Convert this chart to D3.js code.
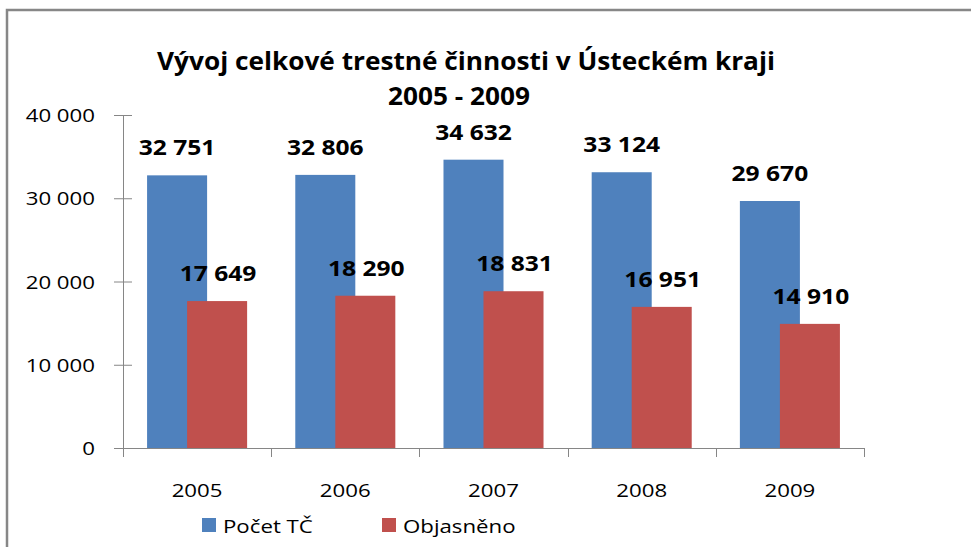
<!DOCTYPE html>
<html>
<head>
<meta charset="utf-8">
<script src="https://cdn.jsdelivr.net/npm/d3@7"></script>
<style>
  html, body { margin: 0; padding: 0; background: #fff; }
  svg { display: block; font-family: "Open Sans", sans-serif; }
</style>
</head>
<body>
<div id="chart"></div>
<script>
// Data
const years = ['2005', '2006', '2007', '2008', '2009'];
const pocetTC = [32751, 32806, 34632, 33124, 29670];
const objasneno = [17649, 18290, 18831, 16951, 14910];
const seriesNames = ['Počet TČ', 'Objasněno'];
const seriesColors = ['#4F81BD', '#C0504D'];
const yTicks = [0, 10000, 20000, 30000, 40000];
const titleLines = ['Vývoj celkové trestné činnosti v Ústeckém kraji', '2005 - 2009'];

const width = 971, height = 547;
const margin = { top: 115, right: 107, bottom: 99, left: 123 };
const innerWidth = width - margin.left - margin.right;
const innerHeight = height - margin.top - margin.bottom;
const SX = 1.17;       // the original picture is stretched sideways
const SX_TITLE = 1.07;

const fmt = v => d3.format(',')(v).replace(/,/g, ' ');

const svg = d3.select('#chart').append('svg')
    .attr('width', width)
    .attr('height', height);

// Outer frame (only left and top visible)
svg.append('path')
    .attr('d', 'M7,547V10H971')
    .attr('fill', 'none')
    .attr('stroke', '#878787')
    .attr('stroke-width', 2.5);

// helper: widened text via textLength
function stretchText(sel, x, y, txt, anchor, sx) {
    const t = sel.append('text')
        .attr('x', x).attr('y', y)
        .attr('text-anchor', anchor || 'middle')
        .text(txt);
    const len = t.node().getComputedTextLength();
    t.attr('textLength', len * (sx || SX)).attr('lengthAdjust', 'spacingAndGlyphs');
    return t;
}

// Title
const titleG = svg.append('g').attr('fill', '#000').attr('font-weight', 700).attr('font-size', 24.5);
stretchText(titleG, 466, 70, titleLines[0], 'middle', SX_TITLE);
stretchText(titleG, 459, 105, titleLines[1], 'middle', SX_TITLE);

const g = svg.append('g').attr('transform', `translate(${margin.left},${margin.top})`);

// Scales
const x0 = d3.scaleBand().domain(years).range([0, innerWidth]).padding(0);
const y = d3.scaleLinear().domain([0, 40000]).range([innerHeight, 0]);

// bar geometry: bars overlap by a third, group centred in category
const barW = x0.bandwidth() * 0.405;
const overlap = barW / 3;
const groupW = barW * 2 - overlap;
const barX = (i, s) => x0(years[i]) + (x0.bandwidth() - groupW) / 2 + s * (barW - overlap);

// Y axis
g.append('g')
    .call(d3.axisLeft(y).tickValues(yTicks).tickSize(9).tickSizeOuter(0).tickFormat(() => ''))
    .call(a => a.select('.domain').attr('stroke', '#868686').attr('d', `M0.5,0V${innerHeight + 9}`))
    .call(a => a.selectAll('.tick line').attr('stroke', '#868686').attr('x1', 9));
const yLab = g.append('g').attr('font-size', 19).attr('fill', '#000');
yTicks.forEach(t => stretchText(yLab, -28, y(t) + 7, fmt(t), 'end'));

// Bars
const series = [pocetTC, objasneno];
series.forEach((vals, s) => {
    g.append('g').selectAll('rect')
        .data(vals)
        .join('rect')
        .attr('x', (d, i) => barX(i, s))
        .attr('y', d => y(d))
        .attr('width', barW)
        .attr('height', d => innerHeight - y(d))
        .attr('fill', seriesColors[s]);
});

// X axis
const xAxis = g.append('g').attr('transform', `translate(0,${innerHeight})`);
xAxis.append('line')
    .attr('x1', 0).attr('x2', innerWidth)
    .attr('y1', 0.5).attr('y2', 0.5)
    .attr('stroke', '#868686');
xAxis.selectAll('line.tk')
    .data(years.map(yv => x0(yv)).concat([innerWidth]))
    .join('line')
    .attr('class', 'tk')
    .attr('x1', d => Math.round(d) + 0.5).attr('x2', d => Math.round(d) + 0.5)
    .attr('y1', 0).attr('y2', 9)
    .attr('stroke', '#868686');
const xLab = xAxis.append('g').attr('font-size', 19).attr('fill', '#000');
years.forEach(yv => stretchText(xLab, x0(yv) + x0.bandwidth() / 2, 49, yv));

// Data labels
const labels = g.append('g').attr('font-weight', 700).attr('font-size', 21).attr('fill', '#000');
series.forEach((vals, s) => {
    vals.forEach((v, i) => {
        stretchText(labels, barX(i, s) + barW / 2 + s, y(v) - 20, fmt(v));
    });
});

// Legend
const legend = svg.append('g').attr('transform', 'translate(202,518)').attr('font-size', 19).attr('fill', '#000');
const legX = [0, 180];
seriesNames.forEach((name, s) => {
    legend.append('rect')
        .attr('x', legX[s]).attr('y', 0)
        .attr('width', 14).attr('height', 14)
        .attr('fill', seriesColors[s]);
    stretchText(legend, legX[s] + 21, 15, name, 'start');
});
</script>
</body>
</html>
